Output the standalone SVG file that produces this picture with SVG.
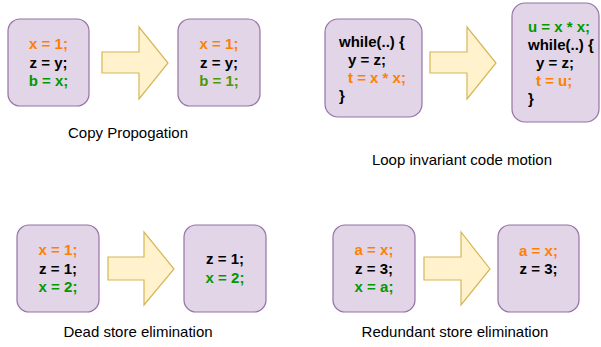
<svg xmlns="http://www.w3.org/2000/svg" width="601" height="347" viewBox="0 0 601 347">
<style>
.box{fill:#e1d5e7;stroke:#9673a6;stroke-width:1.2}
.arr{fill:#fff2cc;stroke:#d6b656;stroke-width:1.2}
.code{font-family:"Liberation Sans",Arial,sans-serif;font-weight:bold;font-size:15px;fill:#000}
.c{text-anchor:middle}
.o{fill:#ff8000}
.g{fill:#009900}
.g2{fill:#4d9900}
.lbl{font-family:"Liberation Sans",Arial,sans-serif;font-size:15px;fill:#000;text-anchor:middle}
</style>
<rect width="601" height="347" fill="#fff"/>
<g id="connectors">
<path class="arr" d="M102,52 H139 V27 L168,63 L139,99 V73 H102 Z"/>
<path class="arr" d="M430,52 H467 V27 L496,63 L467,99 V73 H430 Z"/>
<path class="arr" d="M108,257 H144 V232 L174,269 L144,305 V280 H108 Z"/>
<path class="arr" d="M424,257 H461 V232 L490,269 L461,305 V280 H424 Z"/>
</g>
<g id="cp-before">
<rect class="box" x="8" y="19" width="81" height="87" rx="12"/>
<text class="code c" x="48.5"><tspan class="o" x="48.5" y="49">x = 1;</tspan><tspan x="48.5" y="67.5">z = y;</tspan><tspan class="g" x="48.5" y="86">b = x;</tspan></text>
</g>
<g id="cp-after">
<rect class="box" x="178" y="19" width="82" height="87" rx="12"/>
<text class="code c" x="219"><tspan class="o" x="219" y="49">x = 1;</tspan><tspan x="219" y="67.5">z = y;</tspan><tspan class="g2" x="219" y="86">b = 1;</tspan></text>
</g>
<g id="cp-label"><text class="lbl" x="128" y="138">Copy Propogation</text></g>
<g id="licm-before">
<rect class="box" x="325" y="19" width="97" height="98" rx="13"/>
<text class="code"><tspan x="339" y="47">while(..) {</tspan><tspan x="348" y="65">y = z;</tspan><tspan class="o" x="348" y="83">t = x * x;</tspan><tspan x="339" y="101">}</tspan></text>
</g>
<g id="licm-after">
<rect class="box" x="512" y="3" width="87" height="119" rx="13"/>
<text class="code"><tspan class="g" x="528" y="32">u = x * x;</tspan><tspan x="528" y="50">while(..) {</tspan><tspan x="536" y="68">y = z;</tspan><tspan class="o" x="536" y="86">t = u;</tspan><tspan x="528" y="104">}</tspan></text>
</g>
<g id="licm-label"><text class="lbl" x="462" y="165">Loop invariant code motion</text></g>
<g id="dse-before">
<rect class="box" x="17" y="225" width="82" height="87" rx="12"/>
<text class="code c"><tspan class="o" x="58" y="255">x = 1;</tspan><tspan x="58" y="273.5">z = 1;</tspan><tspan class="g" x="58" y="292">x = 2;</tspan></text>
</g>
<g id="dse-after">
<rect class="box" x="184" y="225" width="82" height="87" rx="12"/>
<text class="code c"><tspan x="225" y="264">z = 1;</tspan><tspan class="g" x="225" y="283">x = 2;</tspan></text>
</g>
<g id="dse-label"><text class="lbl" x="138" y="337">Dead store elimination</text></g>
<g id="rse-before">
<rect class="box" x="333" y="225" width="82" height="87" rx="12"/>
<text class="code c"><tspan class="o" x="374" y="255">a = x;</tspan><tspan x="374" y="273.5">z = 3;</tspan><tspan class="g" x="374" y="292">x = a;</tspan></text>
</g>
<g id="rse-after">
<rect class="box" x="498" y="225" width="81" height="87" rx="12"/>
<text class="code c"><tspan class="o" x="538.5" y="256">a = x;</tspan><tspan x="538.5" y="274">z = 3;</tspan></text>
</g>
<g id="rse-label"><text class="lbl" x="455" y="337">Redundant store elimination</text></g>
</svg>
